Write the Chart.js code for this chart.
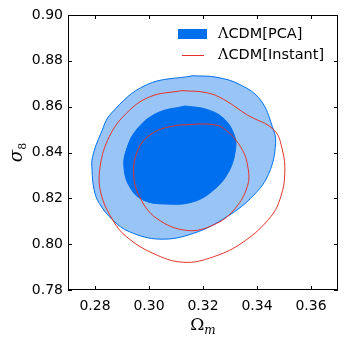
<!DOCTYPE html>
<html>
<head>
<meta charset="utf-8">
<script src="https://cdn.jsdelivr.net/npm/chart.js@4/dist/chart.umd.min.js"></script>
<style>
html, body { margin: 0; padding: 0; background: #fff; }
#wrap { width: 346px; height: 346px; }
</style>
</head>
<body>
<div id="wrap"><canvas id="c"></canvas></div>
<script>
// tick positions
var xTicks = [0.28, 0.30, 0.32, 0.34, 0.36];
var yTicks = [0.78, 0.80, 0.82, 0.84, 0.86, 0.88, 0.90];

// LCDM[PCA] 2-sigma contour
var pcaOuterX = [0.3164, 0.2990, 0.2860, 0.2822, 0.2791, 0.2789, 0.2797, 0.2816, 0.2866, 0.2928, 0.3040, 0.3164, 0.3289, 0.3388, 0.3444, 0.3469, 0.3457, 0.3413, 0.3339, 0.3252];
var pcaOuterY = [0.8735, 0.8695, 0.8571, 0.8484, 0.8382, 0.8324, 0.8236, 0.8178, 0.8105, 0.8054, 0.8022, 0.8047, 0.8120, 0.8214, 0.8309, 0.8440, 0.8513, 0.8629, 0.8695, 0.8728];
// LCDM[PCA] 1-sigma contour
var pcaInnerX = [0.3133, 0.3028, 0.2953, 0.2916, 0.2907, 0.2928, 0.2978, 0.3065, 0.3164, 0.3239, 0.3295, 0.3320, 0.3316, 0.3276, 0.3214];
var pcaInnerY = [0.8603, 0.8571, 0.8498, 0.8411, 0.8338, 0.8251, 0.8193, 0.8175, 0.8185, 0.8236, 0.8316, 0.8411, 0.8476, 0.8549, 0.8588];
// LCDM[Instant] 2-sigma contour
var instOuterX = [0.3121, 0.3003, 0.2916, 0.2853, 0.2819, 0.2822, 0.2866, 0.2916, 0.3015, 0.3127, 0.3239, 0.3351, 0.3451, 0.3488, 0.3503, 0.3494, 0.3463, 0.3364, 0.3276, 0.3214];
var instOuterY = [0.8670, 0.8643, 0.8571, 0.8469, 0.8338, 0.8222, 0.8105, 0.8033, 0.7960, 0.7921, 0.7945, 0.8011, 0.8120, 0.8207, 0.8309, 0.8411, 0.8498, 0.8564, 0.8632, 0.8661];
// LCDM[Instant] 1-sigma contour
var instInnerX = [0.3177, 0.3077, 0.3003, 0.2959, 0.2943, 0.2965, 0.3028, 0.3140, 0.3239, 0.3314, 0.3364, 0.3366, 0.3339, 0.3276, 0.3227];
var instInnerY = [0.8524, 0.8513, 0.8476, 0.8411, 0.8309, 0.8207, 0.8113, 0.8060, 0.8084, 0.8149, 0.8251, 0.8338, 0.8425, 0.8506, 0.8523];

var DARK = '#006FED', LIGHT = '#99C4F7', RED = '#E3342B';

function loop(xs, ys) {
   var pts = xs.map(function(x, i) { return {x: x, y: ys[i]}; });
   pts.push(pts[0]);
   return pts;
}

function contour(xs, ys, line, fill, order) {
   return {
      data: loop(xs, ys),
      showLine: true,
      borderColor: line,
      borderWidth: 1,
      backgroundColor: fill || 'transparent',
      fill: fill ? 'shape' : false,
      pointRadius: 0,
      tension: 0.4,
      order: order
   };
}

var frame = {
   id: 'frame',
   afterDraw: function(chart) {
      var ctx = chart.ctx, a = chart.chartArea;
      var xs = chart.scales.x, ys = chart.scales.y;
      ctx.save();
      ctx.strokeStyle = '#000';
      ctx.lineWidth = 1;
      ctx.strokeRect(a.left + 0.5, a.top + 0.5, a.right - a.left - 1, a.bottom - a.top - 1);
      ctx.beginPath();
      xTicks.forEach(function(v) {
         var p = Math.round(xs.getPixelForValue(v)) + 0.5;
         ctx.moveTo(p, a.bottom); ctx.lineTo(p, a.bottom - 4);
         ctx.moveTo(p, a.top); ctx.lineTo(p, a.top + 4);
      });
      yTicks.forEach(function(v) {
         var p = Math.round(ys.getPixelForValue(v)) + 0.5;
         ctx.moveTo(a.left, p); ctx.lineTo(a.left + 4, p);
         ctx.moveTo(a.right, p); ctx.lineTo(a.right - 4, p);
      });
      ctx.stroke();

      // axis titles
      ctx.fillStyle = '#000';
      ctx.textBaseline = 'alphabetic';
      var cx = (a.left + a.right) / 2;
      ctx.font = '17px "DejaVu Serif"';
      var w1 = ctx.measureText('\u03a9').width;
      ctx.font = 'italic 12px "DejaVu Serif"';
      var w2 = ctx.measureText('m').width;
      var x0 = cx - (w1 + w2) / 2;
      ctx.font = '17px "DejaVu Serif"';
      ctx.fillText('\u03a9', x0, 330);
      ctx.font = 'italic 12px "DejaVu Serif"';
      ctx.fillText('m', x0 + w1, 334);

      ctx.save();
      ctx.translate(22, (a.top + a.bottom) / 2);
      ctx.rotate(-Math.PI / 2);
      ctx.font = 'italic 18px "DejaVu Serif"';
      var s1 = ctx.measureText('\u03c3').width;
      ctx.font = '11px "DejaVu Serif"';
      var s2 = ctx.measureText('8').width;
      ctx.font = 'italic 18px "DejaVu Serif"';
      ctx.fillText('\u03c3', -(s1 + s2) / 2, 0);
      ctx.font = '11px "DejaVu Serif"';
      ctx.fillText('8', -(s1 + s2) / 2 + s1, 4);
      ctx.restore();

      // legend
      ctx.fillStyle = DARK;
      ctx.fillRect(178, 29, 29, 10);
      ctx.strokeStyle = RED;
      ctx.beginPath();
      ctx.moveTo(182, 55.5); ctx.lineTo(204, 55.5);
      ctx.stroke();
      ctx.fillStyle = '#000';
      ctx.textBaseline = 'middle';
      [['[PCA]', 34], ['[Instant]', 55]].forEach(function(it) {
         ctx.font = '14.5px "DejaVu Serif"';
         ctx.fillText('\u039b', 218, it[1]);
         var lw = ctx.measureText('\u039b').width;
         ctx.font = '14.5px "DejaVu Sans"';
         ctx.fillText('CDM' + it[0], 218 + lw, it[1]);
      });
      ctx.restore();
   }
};

var tickFont = { family: 'DejaVu Sans', size: 14 };

new Chart(document.getElementById('c'), {
   type: 'scatter',
   data: {
      datasets: [
         contour(instInnerX, instInnerY, RED, null, 0),
         contour(instOuterX, instOuterY, RED, null, 0),
         contour(pcaInnerX, pcaInnerY, DARK, DARK, 1),
         contour(pcaOuterX, pcaOuterY, DARK, LIGHT, 2)
      ]
   },
   options: {
      responsive: true,
      maintainAspectRatio: false,
      animation: false,
      layout: { padding: { top: 15, right: 8, left: 0, bottom: 0 } },
      plugins: { legend: { display: false }, tooltip: { enabled: false } },
      scales: {
         x: {
            min: 0.27, max: 0.37,
            grid: { display: false, drawTicks: false },
            border: { display: false },
            afterBuildTicks: function(s) { s.ticks = xTicks.map(function(v) { return {value: v}; }); },
            afterFit: function(s) { s.height = 56; },
            ticks: { font: tickFont, color: '#000', padding: 8, maxRotation: 0,
               callback: function(v) { return v.toFixed(2); } }
         },
         y: {
            min: 0.78, max: 0.90,
            grid: { display: false, drawTicks: false },
            border: { display: false },
            afterBuildTicks: function(s) { s.ticks = yTicks.map(function(v) { return {value: v}; }); },
            afterFit: function(s) { s.width = 68; },
            ticks: { font: tickFont, color: '#000', padding: 5,
               callback: function(v) { return v.toFixed(2); } }
         }
      }
   },
   plugins: [frame]
});
</script>
</body>
</html>
